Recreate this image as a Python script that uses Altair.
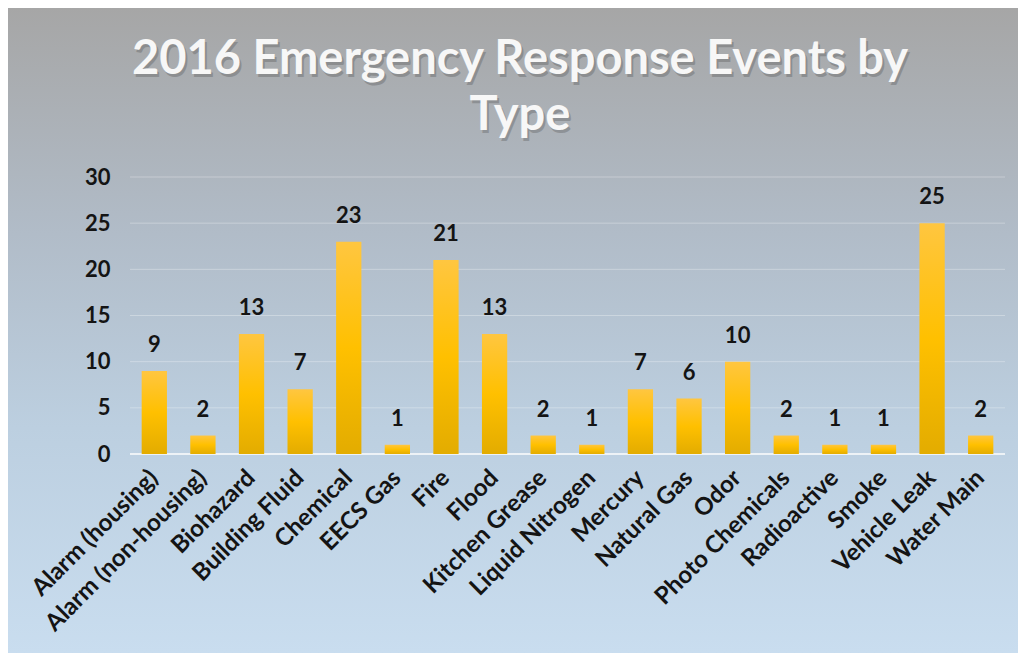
import altair as alt
import pandas as pd

categories = [
    "Alarm (housing)", "Alarm (non-housing)", "Biohazard", "Building Fluid",
    "Chemical", "EECS Gas", "Fire", "Flood", "Kitchen Grease", "Liquid Nitrogen",
    "Mercury", "Natural Gas", "Odor", "Photo Chemicals", "Radioactive", "Smoke",
    "Vehicle Leak", "Water Main",
]
counts = [9, 2, 13, 7, 23, 1, 21, 13, 2, 1, 7, 6, 10, 2, 1, 1, 25, 2]
y_ticks = [0, 5, 10, 15, 20, 25, 30]
grid_vals = [5, 10, 15, 20, 25, 30]
title_text = "2016 Emergency Response Events by\nType"

W, H = 875, 277
PAD = {"left": 122, "top": 169, "right": 13, "bottom": 199}
FONT = "Lato"

df = pd.DataFrame({"type": categories, "count": counts})

xenc = alt.X("type:N", sort=categories, title=None,
             scale=alt.Scale(paddingInner=0.48, paddingOuter=0.24),
             axis=alt.Axis(labelAngle=-45, labelAlign="right", labelBaseline="middle",
                           labelFontSize=24, labelFont=FONT, labelFontWeight="bold",
                           labelColor="#141414", labelPadding=20, ticks=False,
                           domain=False, grid=False, zindex=1, labelLimit=300))
yscale = alt.Scale(domain=[0, 30])

bg = alt.Chart(alt.Data(values=[{"a": 1}])).mark_rect(
    fill=alt.Gradient(gradient="linear", x1=0, x2=0, y1=0, y2=1,
                      stops=[alt.GradientStop(color="#a6a6a6", offset=0),
                             alt.GradientStop(color="#b1bcc8", offset=0.35),
                             alt.GradientStop(color="#bccfe0", offset=0.65),
                             alt.GradientStop(color="#c9ddef", offset=1)]),
).encode(x=alt.value(-PAD["left"]), x2=alt.value(W + PAD["right"]),
         y=alt.value(-PAD["top"]), y2=alt.value(H + PAD["bottom"]))

grid = alt.Chart(pd.DataFrame({"v": grid_vals})).mark_rule(
    color="#ffffff", opacity=0.3, strokeWidth=1
).encode(y=alt.Y("v:Q", scale=yscale), x=alt.value(0), x2=alt.value(W))

zero = alt.Chart(pd.DataFrame({"v": [0]})).mark_rule(
    color="#f2f5f8", opacity=0.9, strokeWidth=2
).encode(y=alt.Y("v:Q", scale=yscale), x=alt.value(0), x2=alt.value(W))

bars = alt.Chart(df).mark_bar(
    color=alt.Gradient(gradient="linear", x1=0, x2=0, y1=0, y2=1,
                       stops=[alt.GradientStop(color="#ffc640", offset=0),
                              alt.GradientStop(color="#ffc000", offset=0.5),
                              alt.GradientStop(color="#e3ac00", offset=1)])
).encode(
    x=xenc,
    y=alt.Y("count:Q", scale=yscale, title=None,
            axis=alt.Axis(values=y_ticks, labelFontSize=22, labelFont=FONT,
                          labelFontWeight="bold", labelColor="#141414",
                          labelPadding=20, ticks=False, domain=False, grid=False,
                          zindex=1)),
)

labels = alt.Chart(df).mark_text(
    font=FONT, fontSize=22, fontWeight="bold", color="#141414",
    baseline="alphabetic", dy=-19
).encode(x=alt.X("type:N", sort=categories), y=alt.Y("count:Q", scale=yscale),
         text="count:Q")

title_shadow = alt.Chart(alt.Data(values=[{"t": title_text}])).mark_text(
    font=FONT, fontSize=47, fontWeight="bold", color="#4a4a4a", opacity=0.3,
    lineBreak="\n", lineHeight=56, align="center", baseline="alphabetic",
    dx=2, dy=3
).encode(text="t:N", x=alt.value(390), y=alt.value(74 - 8 - PAD["top"]))

title = alt.Chart(alt.Data(values=[{"t": title_text}])).mark_text(
    font=FONT, fontSize=47, fontWeight="bold", color="#f7f7f7",
    lineBreak="\n", lineHeight=56, align="center", baseline="alphabetic"
).encode(text="t:N", x=alt.value(390), y=alt.value(74 - 8 - PAD["top"]))

chart = alt.layer(bg, grid, zero, bars, labels, title_shadow, title).properties(
    width=W, height=H,
    autosize=alt.AutoSizeParams(type="none"),
    padding=PAD,
).configure_view(stroke=None)

chart.save("out.html", embed_options={"renderer": "svg", "actions": False})
